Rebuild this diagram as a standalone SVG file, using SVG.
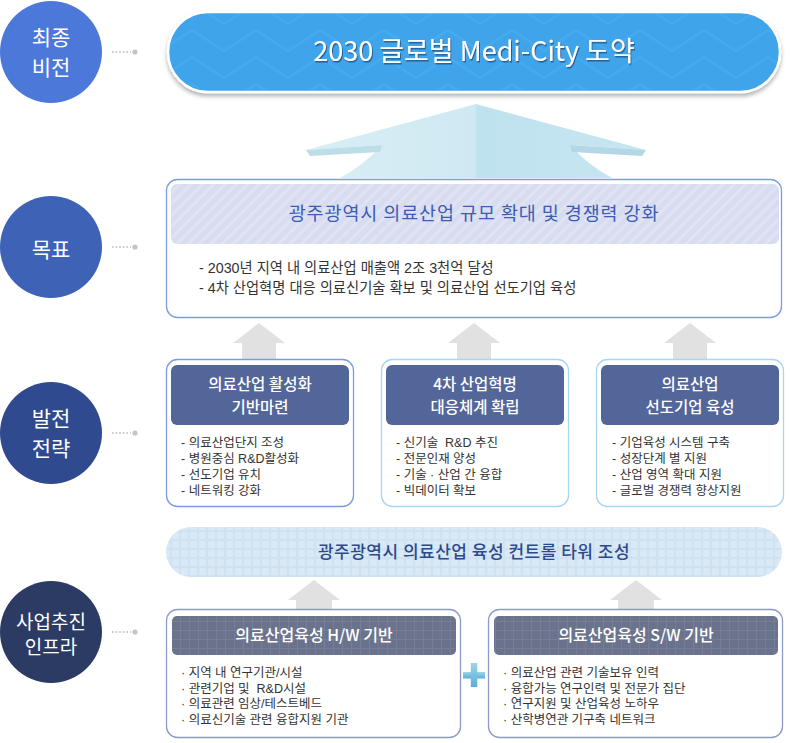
<svg xmlns="http://www.w3.org/2000/svg" width="790" height="743" viewBox="0 0 790 743">
<defs>
<style>
text{font-family:'Noto Sans CJK KR','Noto Sans',sans-serif;}
.lt{font-family:'Liberation Sans','Noto Sans CJK KR',sans-serif;}
.pre{white-space:pre;}
.ct{fill:#fff;font-size:21px;text-anchor:middle;}
.dot{stroke:#bdbdbd;stroke-width:1.6;stroke-dasharray:1.6 2;fill:none;}
.dotc{fill:#c4c4c4;}
.arr{fill:#e1e1e1;}
.sbox{fill:#fff;stroke-width:1.3;}
.shdr{fill:#53669a;}
.sh{fill:#fff;font-size:15.5px;font-weight:500;text-anchor:middle;}
.sb{fill:#333;font-size:12.5px;}
.ib{fill:#333;font-size:12.5px;}
.ih{fill:#fff;font-size:16px;font-weight:500;text-anchor:middle;}
</style>
<pattern id="chev" width="64" height="27" patternUnits="userSpaceOnUse">
<path d="M0,3 L32,24 L64,3" stroke="#4db1f1" stroke-width="2.5" fill="none"/>
</pattern>
<pattern id="stripe" width="8" height="8" patternUnits="userSpaceOnUse" patternTransform="rotate(45)">
<rect width="8" height="8" fill="#d7dcf0"/>
<rect width="3" height="8" fill="#dfe3f3"/>
</pattern>
<pattern id="check" width="9" height="9" patternUnits="userSpaceOnUse">
<rect width="9" height="9" fill="#cfe2f2"/>
<rect x="1" y="1" width="7" height="7" rx="1.5" fill="#d9e9f6"/>
</pattern>
<pattern id="grid" width="9" height="9" patternUnits="userSpaceOnUse">
<rect width="9" height="9" fill="#767e97"/>
<rect x="1" y="1" width="8" height="8" fill="#6b738c"/>
</pattern>
<filter id="shd" x="-5%" y="-20%" width="110%" height="150%">
<feDropShadow dx="0" dy="3" stdDeviation="2" flood-color="#000" flood-opacity="0.3"/>
</filter>
<filter id="tshd" x="-5%" y="-30%" width="110%" height="160%">
<feDropShadow dx="1" dy="1.5" stdDeviation="0.6" flood-color="#1a4f80" flood-opacity="0.8"/>
</filter>
<linearGradient id="roofL" x1="0" y1="0" x2="1" y2="0">
<stop offset="0" stop-color="#d9eef5"/>
<stop offset="1" stop-color="#cfe9f2"/>
</linearGradient>
<linearGradient id="roofR" x1="0" y1="0" x2="1" y2="0">
<stop offset="0" stop-color="#bfe2ef"/>
<stop offset="1" stop-color="#c6e6f1"/>
</linearGradient>
<linearGradient id="plusg" x1="0" y1="0" x2="0" y2="1">
<stop offset="0" stop-color="#9dd6ec"/>
<stop offset="1" stop-color="#5aaed3"/>
</linearGradient>
</defs>
<rect width="790" height="743" fill="#fff"/>

<g id="connectors">
<line class="dot" x1="112" y1="52" x2="131" y2="52"/><circle class="dotc" cx="135" cy="52" r="2.6"/>
<line class="dot" x1="112" y1="247" x2="131" y2="247"/><circle class="dotc" cx="135" cy="247" r="2.6"/>
<line class="dot" x1="112" y1="433" x2="131" y2="433"/><circle class="dotc" cx="135" cy="433" r="2.6"/>
<line class="dot" x1="112" y1="632" x2="131" y2="632"/><circle class="dotc" cx="135" cy="632" r="2.6"/>
<g id="roof">
<path d="M476,104 L306,150 L382,145 Q364,165 340,178 L476,178 Z" fill="url(#roofL)"/>
<path d="M476,104 L646,150 L570,145 Q588,165 612,178 L476,178 Z" fill="url(#roofR)"/>
<path d="M306,150 L382,145 L380,152 L310,156 Z" fill="#bddde9"/>
<path d="M646,150 L570,145 L572,152 L642,156 Z" fill="#b3d7e5"/>
</g>
<polygon class="arr" points="259,323 285,343 276,343 276,362 242,362 242,343 233,343"/>
<polygon class="arr" points="474,323 500,343 491,343 491,362 457,362 457,343 448,343"/>
<polygon class="arr" points="690,323 716,343 707,343 707,362 673,362 673,343 664,343"/>
<polygon class="arr" points="314,580 340,600 332,600 332,612 296,612 296,600 288,600"/>
<polygon class="arr" points="636,580 662,600 654,600 654,612 618,612 618,600 610,600"/>
</g>

<g id="circle-vision">
<circle cx="51" cy="52" r="51" fill="#4c78d9"/>
<text class="ct" x="51" y="45">최종</text>
<text class="ct" x="51" y="75">비전</text>
</g>
<g id="circle-goal">
<circle cx="51" cy="247" r="51" fill="#3d62b6"/>
<text class="ct" x="51" y="257">목표</text>
</g>
<g id="circle-strategy">
<circle cx="51" cy="433" r="51" fill="#2f4a8e"/>
<text class="ct" x="51" y="426">발전</text>
<text class="ct" x="51" y="456">전략</text>
</g>
<g id="circle-infra">
<circle cx="51" cy="632" r="51" fill="#2b3b64"/>
<text class="ct" x="51" y="629" style="font-size:19px">사업추진</text>
<text class="ct" x="51" y="654" style="font-size:19px">인프라</text>
</g>

<g id="vision">
<g filter="url(#shd)">
<rect x="168" y="12" width="612" height="80" rx="40" fill="#3fa4eb" stroke="#fff" stroke-width="2.5"/>
</g>
<rect x="170" y="14" width="608" height="76" rx="38" fill="url(#chev)" opacity="0.45"/>
<text x="474" y="61" filter="url(#tshd)" style="fill:#fff;font-size:27px;text-anchor:middle">2030 글로벌 Medi-City 도약</text>
</g>

<g id="goal">
<rect x="166.5" y="179.5" width="615" height="138" rx="11" fill="#fff" stroke="#7d9de3" stroke-width="1.3"/>
<rect x="171" y="184" width="608" height="60" rx="6" fill="url(#stripe)"/>
<text x="474" y="220" style="fill:#3c5cb2;font-size:18.5px;letter-spacing:0.9px;text-anchor:middle">광주광역시 의료산업 규모 확대 및 경쟁력 강화</text>
<text class="lt" x="199" y="273" style="fill:#333;font-size:14.3px">- 2030년 지역 내 의료산업 매출액 2조 3천억 달성</text>
<text class="lt" x="199" y="293" style="fill:#333;font-size:14.3px">- 4차 산업혁명 대응 의료신기술 확보 및 의료산업 선도기업 육성</text>
</g>

<g id="strategy-1">
<rect class="sbox" x="166.5" y="359.5" width="187" height="147" rx="11" stroke="#7b9be0"/>
<rect class="shdr" x="171" y="365" width="178" height="60" rx="6"/>
<text class="sh" x="260" y="390">의료산업 활성화</text>
<text class="sh" x="260" y="413">기반마련</text>
<text class="sb lt" x="181" y="447">- 의료산업단지 조성</text>
<text class="sb lt" x="181" y="463">- 병원중심 R&amp;D활성화</text>
<text class="sb lt" x="181" y="479">- 선도기업 유치</text>
<text class="sb lt" x="181" y="495">- 네트워킹 강화</text>
</g>
<g id="strategy-2">
<rect class="sbox" x="381.5" y="359.5" width="187" height="147" rx="11" stroke="#a8d5f3"/>
<rect class="shdr" x="386" y="365" width="178" height="60" rx="6"/>
<text class="sh" x="475" y="390">4차 산업혁명</text>
<text class="sh" x="475" y="413">대응체계 확립</text>
<text class="sb lt pre" x="396" y="447" xml:space="preserve">- 신기술  R&amp;D 추진</text>
<text class="sb lt" x="396" y="463">- 전문인재 양성</text>
<text class="sb lt" x="396" y="479">- 기술 · 산업 간 융합</text>
<text class="sb lt" x="396" y="495">- 빅데이터 확보</text>
</g>
<g id="strategy-3">
<rect class="sbox" x="596.5" y="359.5" width="187" height="147" rx="11" stroke="#a8d5f3"/>
<rect class="shdr" x="601" y="365" width="178" height="60" rx="6"/>
<text class="sh" x="690" y="390">의료산업</text>
<text class="sh" x="690" y="413">선도기업 육성</text>
<text class="sb lt" x="612" y="447">- 기업육성 시스템 구축</text>
<text class="sb lt" x="612" y="463">- 성장단계 별 지원</text>
<text class="sb lt" x="612" y="479">- 산업 영역 확대 지원</text>
<text class="sb lt" x="612" y="495">- 글로벌 경쟁력 향상지원</text>
</g>

<g id="control-tower">
<rect x="166" y="527" width="616" height="50" rx="25" fill="url(#check)"/>
<text x="474" y="558" style="fill:#2d4a8c;font-size:17px;font-weight:500;letter-spacing:0.5px;text-anchor:middle">광주광역시 의료산업 육성 컨트롤 타워 조성</text>
</g>

<g id="infra-hw">
<rect x="166.5" y="609.5" width="294" height="128" rx="11" fill="#fff" stroke="#8c9bc6" stroke-width="1.3"/>
<rect x="172" y="616" width="284" height="39" rx="5" fill="url(#grid)"/>
<text class="ih" x="314" y="641">의료산업육성 H/W 기반</text>
<text class="ib lt" x="181" y="677">· 지역 내 연구기관/시설</text>
<text class="ib lt pre" x="181" y="692.5" xml:space="preserve">· 관련기업 및  R&amp;D시설</text>
<text class="ib lt" x="181" y="708">· 의료관련 임상/테스트베드</text>
<text class="ib lt" x="181" y="723.5">· 의료신기술 관련 융합지원 기관</text>
</g>
<g id="plus">
<rect x="463" y="672" width="22" height="6.5" fill="url(#plusg)"/>
<rect x="470.8" y="663" width="6.5" height="24" fill="url(#plusg)"/>
</g>
<g id="infra-sw">
<rect x="488.5" y="609.5" width="294" height="128" rx="11" fill="#fff" stroke="#8c9bc6" stroke-width="1.3"/>
<rect x="494" y="616" width="284" height="39" rx="5" fill="url(#grid)"/>
<text class="ih" x="636" y="641">의료산업육성 S/W 기반</text>
<text class="ib lt" x="503" y="677">· 의료산업 관련 기술보유 인력</text>
<text class="ib lt" x="503" y="692.5">· 융합가능 연구인력 및 전문가 집단</text>
<text class="ib lt" x="503" y="708">· 연구지원 및 산업육성 노하우</text>
<text class="ib lt" x="503" y="723.5">· 산학병연관 기구축 네트워크</text>
</g>
</svg>
